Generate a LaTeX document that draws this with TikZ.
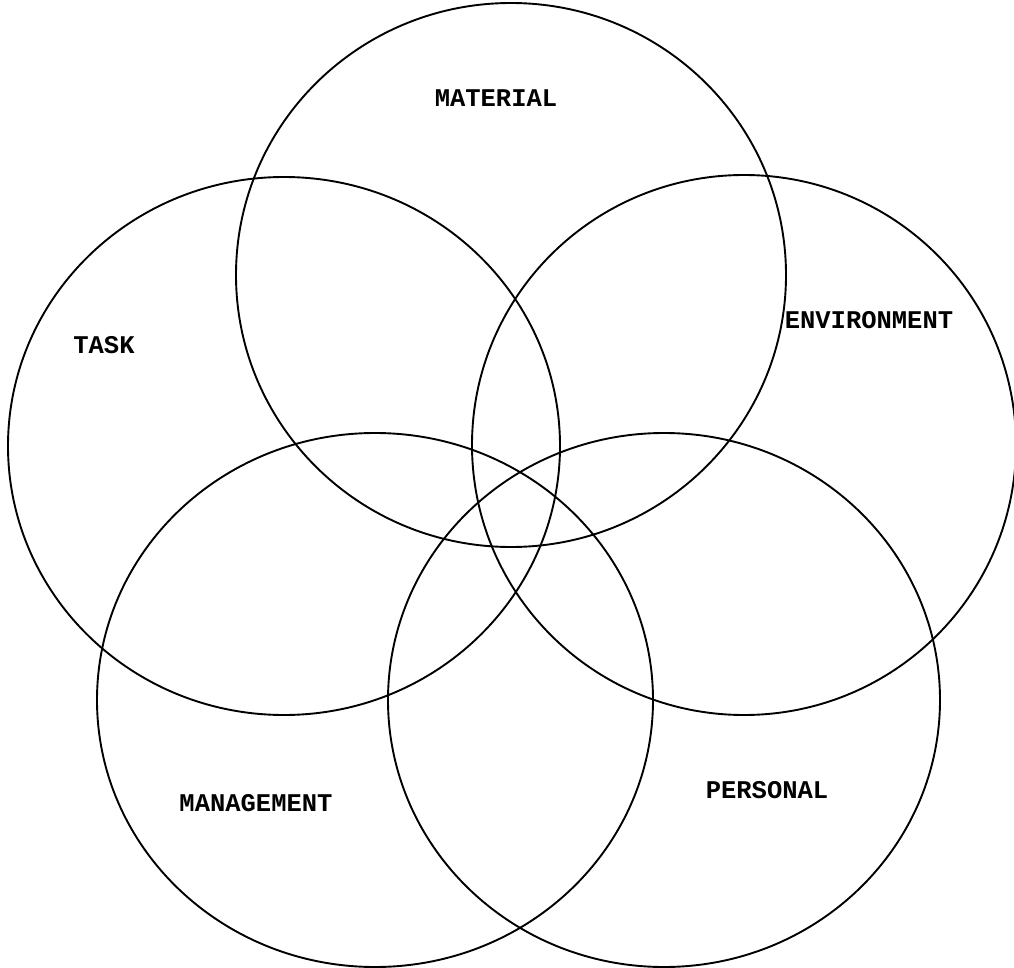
\documentclass[tikz,border=0pt]{standalone}
\usepackage{fontspec}
\newfontfamily\typew{Liberation Mono}
\begin{document}
\begin{tikzpicture}[x=1pt,y=-1pt,
  ring/.style={draw=black,line width=1.9pt},
  lab/.style={font=\typew\bfseries\fontsize{25.5}{26}\selectfont,inner sep=0pt}]
\fill[white] (0,0) rectangle (1014,968);
\useasboundingbox (0,0) rectangle (1014,968);
\draw[ring] (511,275) ellipse [x radius=275,y radius=272];
\draw[ring] (284,446) ellipse [x radius=276,y radius=269];
\draw[ring] (744,445) ellipse [x radius=272,y radius=270];
\draw[ring] (375,700) ellipse [x radius=278,y radius=267];
\draw[ring] (664,700) ellipse [x radius=276,y radius=267];
\node[lab] (material) at (496,98) {MATERIAL};
\node[lab] (task) at (104,345) {TASK};
\node[lab] (env) at (869,320) {ENVIRONMENT};
\node[lab] (mgmt) at (256,803) {MANAGEMENT};
\node[lab] (pers) at (767,790) {PERSONAL};
\end{tikzpicture}
\end{document}
